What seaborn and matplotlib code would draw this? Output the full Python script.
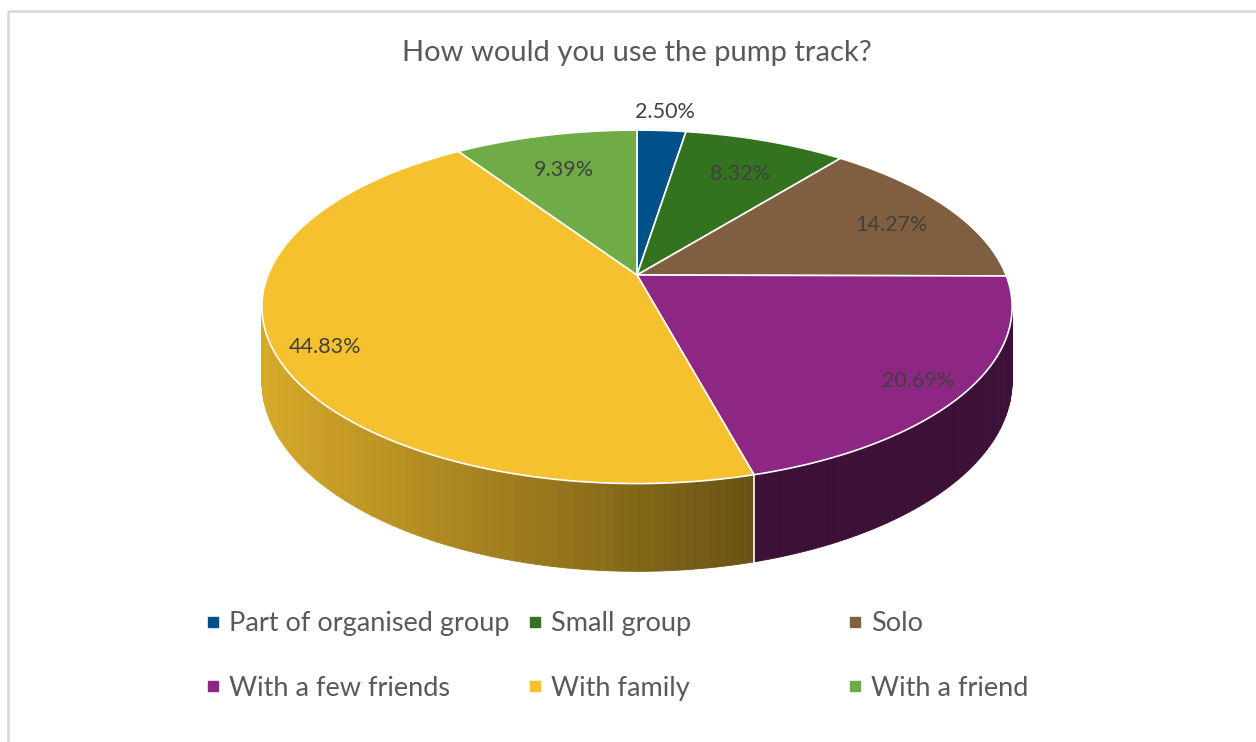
import numpy as np
import seaborn as sns
import matplotlib.pyplot as plt
from matplotlib.patches import Polygon, Rectangle
from matplotlib.lines import Line2D

# Survey answers: how people would use the pump track (percent of responses)
categories = ['Part of organised group', 'Small group', 'Solo',
              'With a few friends', 'With family', 'With a friend']
shares = [2.50, 8.32, 14.27, 20.69, 44.83, 9.39]
slice_colors = ['#00518A', '#33731F', '#7F5F3F', '#8E2683', '#F5C12E', '#6FAC46']
chart_title = 'How would you use the pump track?'

sns.set_style('white')
plt.rcParams['font.family'] = ['Lato', 'DejaVu Sans']
palette = sns.color_palette(slice_colors)

fig = plt.figure(figsize=(12.56, 7.42), dpi=100)
ax = fig.add_axes([0, 0, 1, 1])
ax.set_xlim(0, 1256)
ax.set_ylim(742, 0)
ax.axis('off')

# light grey chart-area border (runs off the right and bottom edges)
ax.add_patch(Rectangle((8, 11), 1400, 900, fill=False, edgecolor='#D9D9D9', linewidth=2))

# tilted 3D pie: centre, radii, perspective strength and thickness in pixels
cx, cy = 637, 275
R, r, k, depth = 369, 171, 0.18, 72


def project(theta, f=1.0, drop=0.0):
    # theta is measured clockwise from 12 o'clock, like Excel
    x = f * np.sin(theta)
    y = f * np.cos(theta)
    w = 1 / (1 + k * y)
    return cx + R * x * w, cy - r * y * w + drop * w


def wall_shade(x):
    # side walls get darker from left to right
    return np.clip(0.88 - 0.45 * (x - 260) / 490, 0.42, 1.0)


edges = np.deg2rad(np.concatenate([[0], np.cumsum(shares)]) * 3.6)
vis_lo = np.arccos(-k)
vis_hi = 2 * np.pi - vis_lo

# side walls (front half only), far segments first
segments = []
for i in range(len(shares)):
    a0, a1 = max(edges[i], vis_lo), min(edges[i + 1], vis_hi)
    if a1 <= a0:
        continue
    n = max(2, int(np.degrees(a1 - a0)))
    t = np.linspace(a0, a1, n + 1)
    for j in range(n):
        segments.append((np.cos((t[j] + t[j + 1]) / 2), i, t[j], t[j + 1]))
segments.sort(key=lambda s: -s[0])
for _, i, t0, t1 in segments:
    top0, top1 = project(t0), project(t1)
    bot1, bot0 = project(t1, drop=depth), project(t0, drop=depth)
    xm = (top0[0] + top1[0]) / 2
    col = np.array(palette[i]) * wall_shade(xm)
    ax.add_patch(Polygon([top0, top1, bot1, bot0], closed=True,
                         facecolor=col, edgecolor=col, linewidth=0.6))

# white seams where slices meet on the visible wall
for a in edges[1:-1]:
    if vis_lo < a < vis_hi:
        p, q = project(a), project(a, drop=depth)
        ax.plot([p[0], q[0]], [p[1], q[1]], color='white', linewidth=1.2)

# top face of each slice
for i in range(len(shares)):
    t = np.linspace(edges[i], edges[i + 1], 200)
    pts = [(cx, cy)] + [project(a) for a in t]
    ax.add_patch(Polygon(pts, closed=True, facecolor=palette[i],
                         edgecolor='white', linewidth=1.2))

# percentage labels (radius as a fraction of the pie, small slice outside)
label_radius = [1.15, 0.77, 0.81, 0.87, 0.87, 0.77]
for i, val in enumerate(shares):
    mid = (edges[i] + edges[i + 1]) / 2
    lx, ly = project(mid, f=label_radius[i])
    if val >= 5:
        ly += 6
    ax.text(lx, ly, f'{val:.2f}%', ha='center', va='center',
            fontsize=15.5, color='#404040')

ax.text(637, 53, chart_title, ha='center', va='center', fontsize=21, color='#595959')

# legend: three columns, two rows, filled row by row
col_x = [203.5, 525.5, 845.5]
for c in range(3):
    handles = [Line2D([], [], marker='s', linestyle='', markersize=7.5,
                      color=palette[c + 3 * row]) for row in range(2)]
    labels = [categories[c + 3 * row] for row in range(2)]
    fig.legend(handles, labels, loc='center left',
               bbox_to_anchor=(col_x[c] / 1256, 1 - 656 / 742),
               frameon=False, fontsize=19.5, labelcolor='#595959',
               handlelength=0.7, handletextpad=0.25, labelspacing=1.45,
               borderpad=0, borderaxespad=0)

plt.savefig('out.png', dpi=100)
